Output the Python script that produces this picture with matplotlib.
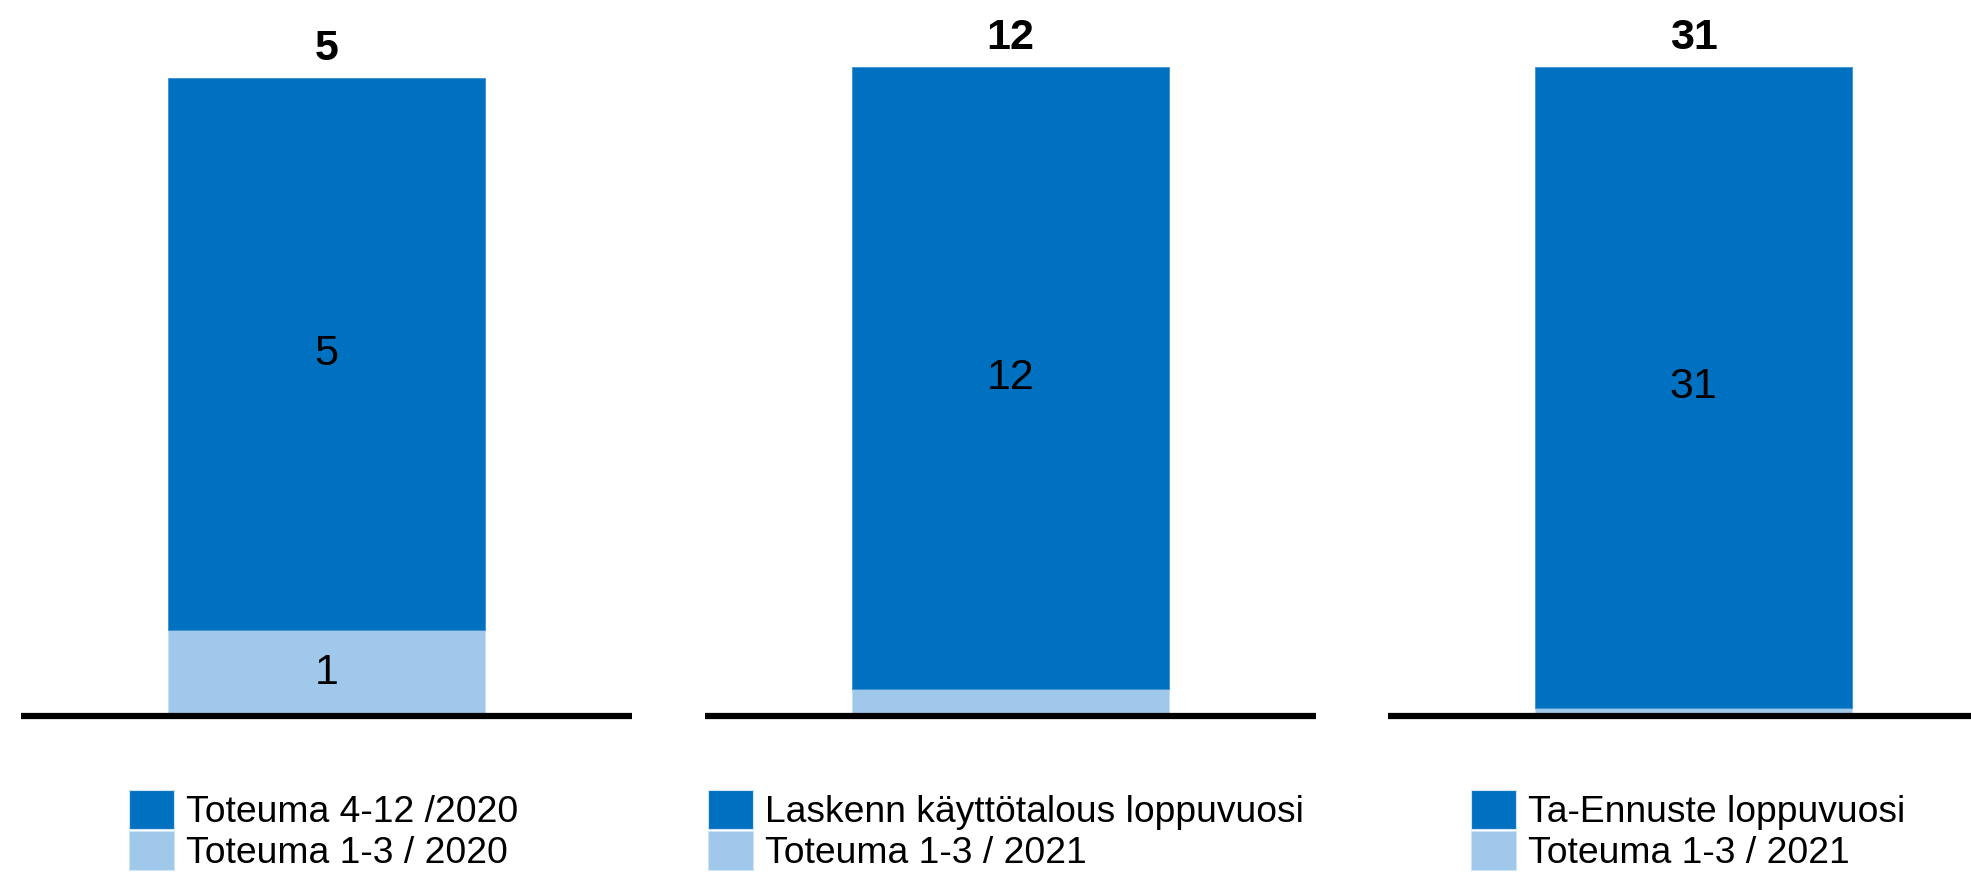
import matplotlib.pyplot as plt
from matplotlib.patches import Patch

plt.rcParams['font.family'] = ['Liberation Sans', 'DejaVu Sans']

# data, one stacked bar per panel
dark_labels = ['Toteuma 4-12 /2020', 'Laskenn käyttötalous loppuvuosi', 'Ta-Ennuste loppuvuosi']
light_labels = ['Toteuma 1-3 / 2020', 'Toteuma 1-3 / 2021', 'Toteuma 1-3 / 2021']
light_vals = [0.72, 0.5, 0.4]
dark_vals = [4.6, 11.7, 30.7]

DARK = '#0070C0'
LIGHT = '#9FC8EA'
W, H = 1971, 876
headroom = [1.06, 1.042, 1.042]
ax_left_px = [21, 705, 1388]
leg_left_px = [129, 708, 1471]

fig = plt.figure(figsize=(W / 100, H / 100), dpi=100)

for i in range(3):
    ax = fig.add_axes([ax_left_px[i] / W, 1 - 716 / H, 611 / W, 676 / H])
    lo, hi = light_vals[i], dark_vals[i]
    total = lo + hi
    ax.bar(0, lo, width=0.52, color=LIGHT, edgecolor='#c8dff2', linewidth=0.6)
    ax.bar(0, hi, bottom=lo, width=0.52, color=DARK, edgecolor='#3a8fd0', linewidth=0.6)
    ax.set_xlim(-0.5, 0.5)
    ax.set_ylim(0, total * headroom[i])

    ax.text(0, lo + hi / 2, f'{hi:.0f}', ha='center', va='center', fontsize=31)
    if lo / total > 0.1:
        ax.text(0, lo / 2, f'{lo:.0f}', ha='center', va='center', fontsize=31)
    ax.annotate(f'{total:.0f}', (0, total), xytext=(0, 21), textcoords='offset points',
                ha='center', va='center', fontsize=31, fontweight='bold')

    for s in ['top', 'left', 'right']:
        ax.spines[s].set_visible(False)
    ax.spines['bottom'].set_linewidth(4.5)
    ax.spines['bottom'].set_color('black')
    ax.spines['bottom'].set_capstyle('butt')
    ax.set_xticks([])
    ax.set_yticks([])

    handles = [Patch(facecolor=DARK, edgecolor='#d0e4f5', linewidth=0.8, label=dark_labels[i]),
               Patch(facecolor=LIGHT, edgecolor='#d0e4f5', linewidth=0.8, label=light_labels[i])]
    fig.legend(handles=handles, loc='upper left',
               bbox_to_anchor=(leg_left_px[i] / W, 1 - 790 / H),
               frameon=False, fontsize=26.8, borderpad=0, borderaxespad=0,
               labelspacing=0.03, handlelength=1.22, handleheight=1.245, handletextpad=0.3)

fig.savefig('out.png', dpi=100)
